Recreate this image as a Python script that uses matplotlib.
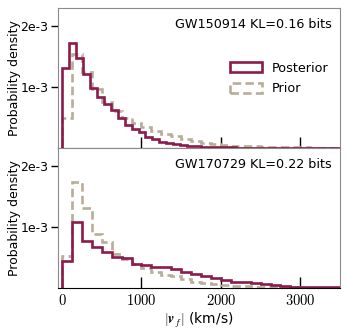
import matplotlib
matplotlib.use("Agg")
import matplotlib.pyplot as plt
from matplotlib.patches import Patch
import numpy as np

plt.rcParams['mathtext.fontset'] = 'cm'
plt.rcParams['font.family'] = ['DejaVu Sans']

# densities in units of 1e-3 per km/s
post_edges_top = np.linspace(0, 3500, 41)
post_top = [1.32, 1.73, 1.48, 1.21, 0.98, 0.83, 0.72, 0.62, 0.50, 0.38,
            0.32, 0.26, 0.185, 0.14, 0.10, 0.08, 0.07, 0.05, 0.04, 0.03,
            0.022, 0.018, 0.014, 0.011, 0.009, 0.007, 0.006, 0.005, 0.004, 0.003,
            0.003, 0.002, 0.002, 0.0015, 0.001, 0.001, 0.001, 0.0005, 0.0005, 0.0005]

prior_edges = np.linspace(0, 3500, 29)
prior_top = [0.49, 1.54, 1.25, 0.97, 0.76, 0.60, 0.49, 0.41, 0.34, 0.28,
             0.23, 0.19, 0.14, 0.11, 0.087, 0.066, 0.05, 0.04, 0.033, 0.027,
             0.022, 0.018, 0.014, 0.011, 0.009, 0.007, 0.005, 0.004]

post_edges_bot = np.linspace(0, 3500, 29)
post_bot = [0.45, 1.09, 0.77, 0.68, 0.59, 0.51, 0.50, 0.39, 0.38, 0.345,
            0.345, 0.31, 0.27, 0.23, 0.19, 0.16, 0.13, 0.105, 0.09, 0.075,
            0.06, 0.045, 0.035, 0.022, 0.02, 0.012, 0.01, 0.008]

prior_bot = [0.52, 1.74, 1.31, 0.88, 0.75, 0.55, 0.47, 0.40, 0.33, 0.26,
             0.22, 0.19, 0.145, 0.105, 0.08, 0.06, 0.045, 0.035, 0.03, 0.022,
             0.018, 0.013, 0.01, 0.008, 0.006, 0.005, 0.004, 0.003]

events = ["GW150914 KL=0.16 bits", "GW170729 KL=0.22 bits"]
xticks = [0, 1000, 2000, 3000]

post_col = '#8c1a4b'
prior_col = '#b8ad98'
dash = (0, (3.2, 1.6))

fig = plt.figure(figsize=(3.48, 3.36), dpi=100)
ax1 = fig.add_axes([0.167, 0.5595, 0.81, 0.4167])
ax2 = fig.add_axes([0.167, 0.143, 0.81, 0.4167])

panels = [(ax1, post_edges_top, post_top, prior_top, events[0]),
          (ax2, post_edges_bot, post_bot, prior_bot, events[1])]

for ax, pe, pv, rv, label in panels:
    ax.stairs(np.array(rv) * 1e-3, prior_edges, color=prior_col, lw=1.9,
              linestyle=dash, zorder=3)
    ax.stairs(np.array(pv) * 1e-3, pe, color=post_col, lw=1.9, zorder=3)
    ax.set_xlim(-50, 3500)
    ax.set_ylim(0, 2.3e-3)
    ax.set_xticks(xticks)
    ax.set_yticks([1e-3, 2e-3])
    ax.set_yticklabels(['1e-3', '2e-3'], fontsize=9)
    ax.tick_params(axis='x', direction='in', length=8, width=1, top=False)
    ax.tick_params(axis='y', direction='out', length=5, width=1, pad=2)
    for s in ['left', 'right', 'top']:
        ax.spines[s].set_color('#8a8a8a')
    ax.spines['bottom'].set_color('black')
    ax.spines['bottom'].set_zorder(4)
    ax.set_ylabel('Probability density', fontsize=9)
    ax.yaxis.set_label_coords(-0.13, 0.5)
    ax.text(0.97, 0.88, label, transform=ax.transAxes, ha='right', va='center',
            fontsize=9.2)

ax1.set_xticklabels([])
ax2.set_xticklabels(['$0$', '$1000$', '$2000$', '$3000$'], fontsize=10.5)
ax2.set_xlabel(r'$|\mathbfit{v}_f|$ (km/s)', fontsize=10, labelpad=2)

handles = [Patch(facecolor='none', edgecolor=post_col, lw=1.9),
           Patch(facecolor='none', edgecolor=prior_col, lw=1.9, linestyle=dash)]
ax1.legend(handles, ['Posterior', 'Prior'], loc='upper right',
           bbox_to_anchor=(1.0, 0.70), frameon=False, fontsize=9.2,
           handlelength=2.5, handleheight=0.8, labelspacing=0.6,
           handletextpad=0.8)

fig.savefig('out.png', dpi=100)
